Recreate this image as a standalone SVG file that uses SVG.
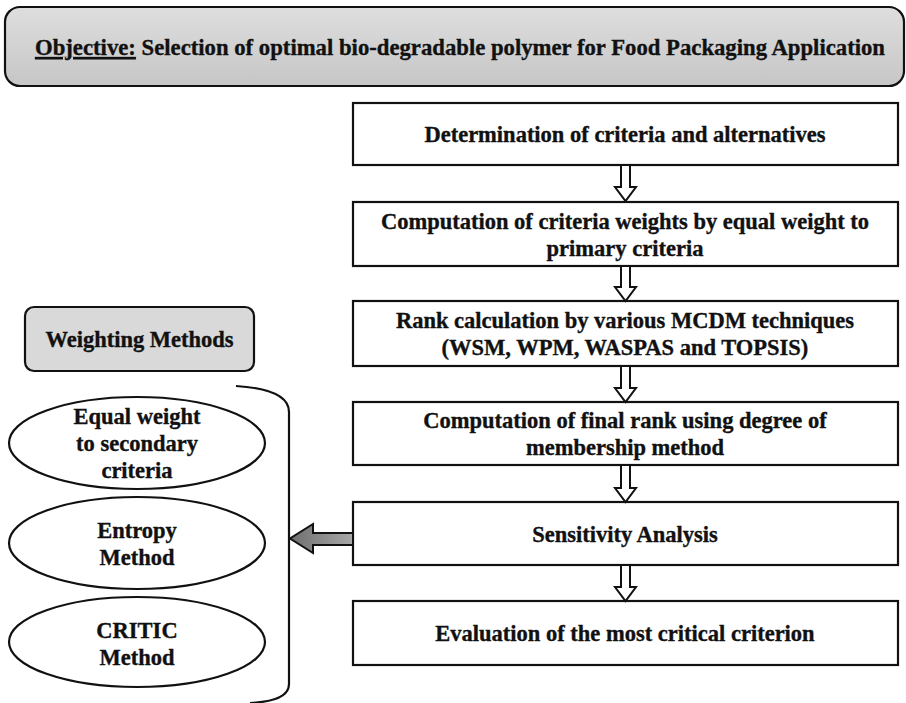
<svg xmlns="http://www.w3.org/2000/svg" width="906" height="703" viewBox="0 0 906 703">
<defs>
<linearGradient id="gObj" x1="0" y1="0" x2="0" y2="1">
<stop offset="0" stop-color="#dedede"/>
<stop offset="1" stop-color="#c6c6c6"/>
</linearGradient>
<linearGradient id="gArr" x1="0" y1="0" x2="1" y2="0">
<stop offset="0" stop-color="#6e6e6e"/>
<stop offset="1" stop-color="#a8a8a8"/>
</linearGradient>
<style>
.t{font-family:"Liberation Serif","Times New Roman",serif;font-weight:bold;font-size:22.5px;fill:#111;stroke:#111;stroke-width:0.35;text-anchor:middle}
.box{fill:#fff;stroke:#111;stroke-width:2.2}
.ell{fill:#fff;stroke:#111;stroke-width:2.2}
.harr{fill:#fff;stroke:#111;stroke-width:2;stroke-linejoin:miter}
</style>
</defs>
<rect width="906" height="703" fill="#fff"/>

<g id="objective">
<rect x="5" y="7" width="899" height="79" rx="15" ry="15" fill="url(#gObj)" stroke="#111" stroke-width="2.2"/>
<text class="t" x="460" y="55" textLength="850" lengthAdjust="spacingAndGlyphs"><tspan text-decoration="underline">Objective:</tspan> Selection of optimal bio-degradable polymer for Food Packaging Application</text>
</g>

<g id="step1">
<rect class="box" x="353" y="103" width="545" height="62"/>
<text class="t" x="625" y="142">Determination of criteria and alternatives</text>
</g>
<g id="step2">
<rect class="box" x="353" y="202" width="545" height="64"/>
<text class="t" x="625" y="229">Computation of criteria weights by equal weight to</text>
<text class="t" x="625" y="256">primary criteria</text>
</g>
<g id="step3">
<rect class="box" x="353" y="301" width="545" height="65"/>
<text class="t" x="625" y="328">Rank calculation by various MCDM techniques</text>
<text class="t" x="625" y="355">(WSM, WPM, WASPAS and TOPSIS)</text>
</g>
<g id="step4">
<rect class="box" x="353" y="402" width="545" height="63"/>
<text class="t" x="625" y="428">Computation of final rank using degree of</text>
<text class="t" x="625" y="455">membership method</text>
</g>
<g id="step5">
<rect class="box" x="353" y="502" width="545" height="63"/>
<text class="t" x="625" y="542">Sensitivity Analysis</text>
</g>
<g id="step6">
<rect class="box" x="353" y="601" width="545" height="64"/>
<text class="t" x="625" y="641">Evaluation of the most critical criterion</text>
</g>

<g id="weighting-methods">
<rect x="25" y="307" width="229" height="64" rx="9" ry="9" fill="#d9d9d9" stroke="#111" stroke-width="2.2"/>
<text class="t" x="139.5" y="347">Weighting Methods</text>
</g>

<g id="equal-weight">
<ellipse class="ell" cx="137" cy="443" rx="128" ry="46"/>
<text class="t" x="137" y="424">Equal weight</text>
<text class="t" x="137" y="451">to secondary</text>
<text class="t" x="137" y="478">criteria</text>
</g>
<g id="entropy">
<ellipse class="ell" cx="137" cy="543" rx="128" ry="46"/>
<text class="t" x="137" y="538">Entropy</text>
<text class="t" x="137" y="565">Method</text>
</g>
<g id="critic">
<ellipse class="ell" cx="137" cy="642" rx="128" ry="45"/>
<text class="t" x="137" y="638">CRITIC</text>
<text class="t" x="137" y="665">Method</text>
</g>

<g id="connectors">
<path d="M236,386 C268,388 289,395 289,412 L289,684 C289,697 272,702 250,703" fill="none" stroke="#111" stroke-width="2.2"/>
<path class="harr" d="M621,165 H630 V187 H636 L625.5,201 L615,187 H621 Z"/>
<path class="harr" d="M621,266 H630 V287 H636 L625.5,301 L615,287 H621 Z"/>
<path class="harr" d="M621,366 H630 V388 H636 L625.5,402 L615,388 H621 Z"/>
<path class="harr" d="M621,465 H630 V488 H636 L625.5,502 L615,488 H621 Z"/>
<path class="harr" d="M621,565 H630 V587 H636 L625.5,601 L615,587 H621 Z"/>
<path d="M353,533 H313 V524 L290,538.5 L313,553 V545 H353 Z" fill="url(#gArr)" stroke="#111" stroke-width="2"/>
</g>
</svg>
